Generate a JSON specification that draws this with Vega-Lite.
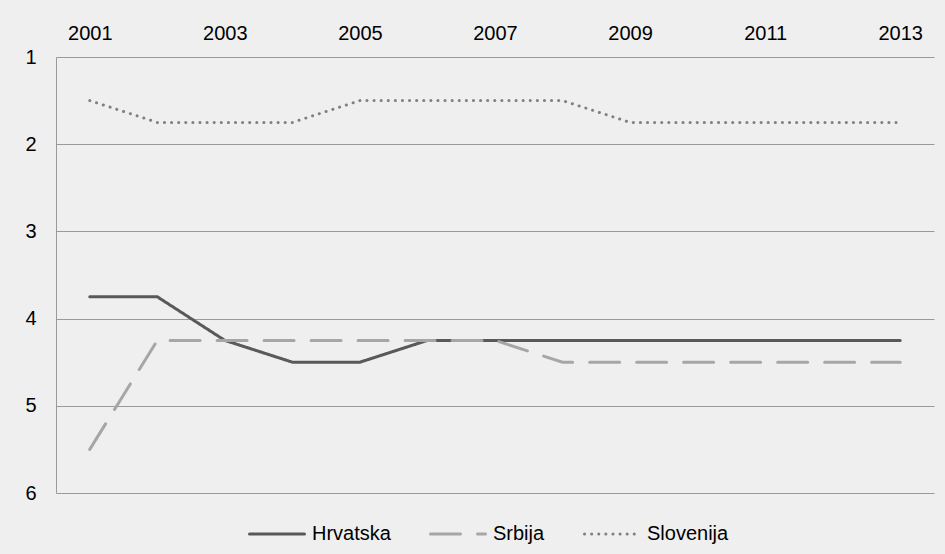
{
  "$schema": "https://vega.github.io/schema/vega-lite/v6.json",
  "autosize": "none",
  "width": 878,
  "height": 436,
  "padding": {"left": 56, "top": 57, "right": 11, "bottom": 61},
  "background": "#efefef",
  "config": {
    "view": {"stroke": null},
    "font": "Liberation Sans",
    "axis": {"labelFont": "Liberation Sans", "labelColor": "#000000"}
  },
  "data": {
    "values": [
      {"series": "Hrvatska", "year": 2001, "value": 3.75},
      {"series": "Hrvatska", "year": 2002, "value": 3.75},
      {"series": "Hrvatska", "year": 2003, "value": 4.25},
      {"series": "Hrvatska", "year": 2004, "value": 4.5},
      {"series": "Hrvatska", "year": 2005, "value": 4.5},
      {"series": "Hrvatska", "year": 2006, "value": 4.25},
      {"series": "Hrvatska", "year": 2007, "value": 4.25},
      {"series": "Hrvatska", "year": 2008, "value": 4.25},
      {"series": "Hrvatska", "year": 2009, "value": 4.25},
      {"series": "Hrvatska", "year": 2010, "value": 4.25},
      {"series": "Hrvatska", "year": 2011, "value": 4.25},
      {"series": "Hrvatska", "year": 2012, "value": 4.25},
      {"series": "Hrvatska", "year": 2013, "value": 4.25},
      {"series": "Srbija", "year": 2001, "value": 5.5},
      {"series": "Srbija", "year": 2002, "value": 4.25},
      {"series": "Srbija", "year": 2003, "value": 4.25},
      {"series": "Srbija", "year": 2004, "value": 4.25},
      {"series": "Srbija", "year": 2005, "value": 4.25},
      {"series": "Srbija", "year": 2006, "value": 4.25},
      {"series": "Srbija", "year": 2007, "value": 4.25},
      {"series": "Srbija", "year": 2008, "value": 4.5},
      {"series": "Srbija", "year": 2009, "value": 4.5},
      {"series": "Srbija", "year": 2010, "value": 4.5},
      {"series": "Srbija", "year": 2011, "value": 4.5},
      {"series": "Srbija", "year": 2012, "value": 4.5},
      {"series": "Srbija", "year": 2013, "value": 4.5},
      {"series": "Slovenija", "year": 2001, "value": 1.5},
      {"series": "Slovenija", "year": 2002, "value": 1.75},
      {"series": "Slovenija", "year": 2003, "value": 1.75},
      {"series": "Slovenija", "year": 2004, "value": 1.75},
      {"series": "Slovenija", "year": 2005, "value": 1.5},
      {"series": "Slovenija", "year": 2006, "value": 1.5},
      {"series": "Slovenija", "year": 2007, "value": 1.5},
      {"series": "Slovenija", "year": 2008, "value": 1.5},
      {"series": "Slovenija", "year": 2009, "value": 1.75},
      {"series": "Slovenija", "year": 2010, "value": 1.75},
      {"series": "Slovenija", "year": 2011, "value": 1.75},
      {"series": "Slovenija", "year": 2012, "value": 1.75},
      {"series": "Slovenija", "year": 2013, "value": 1.75}
    ]
  },
  "mark": {"type": "line", "strokeWidth": 3, "strokeCap": "round"},
  "encoding": {
    "x": {
      "field": "year",
      "type": "ordinal",
      "scale": {"type": "point", "padding": 0.5},
      "axis": {
        "orient": "top",
        "title": null,
        "values": [2001, 2003, 2005, 2007, 2009, 2011, 2013],
        "labelAngle": 0,
        "domain": false,
        "ticks": false,
        "grid": false,
        "labelFontSize": 20,
        "labelPadding": 14
      }
    },
    "y": {
      "field": "value",
      "type": "quantitative",
      "scale": {"domain": [1, 6], "reverse": true, "nice": false, "zero": false},
      "axis": {
        "title": null,
        "values": [1, 2, 3, 4, 5, 6],
        "ticks": false,
        "domain": true,
        "domainColor": "#9a9a9a",
        "domainWidth": 1,
        "grid": true,
        "gridColor": "#9a9a9a",
        "gridWidth": 1,
        "labelFontSize": 20,
        "labelPadding": 20,
        "labelBaseline": "middle"
      }
    },
    "color": {
      "field": "series",
      "type": "nominal",
      "scale": {"domain": ["Hrvatska", "Srbija", "Slovenija"], "range": ["#595959", "#a6a6a6", "#808080"]},
      "legend": {
        "title": null,
        "orient": "none",
        "direction": "horizontal",
        "legendX": 192,
        "legendY": 448,
        "symbolType": "stroke",
        "symbolSize": 3025,
        "symbolStrokeWidth": 3,
        "labelFontSize": 20,
        "labelFont": "Liberation Sans",
        "labelColor": "#000000",
        "labelOffset": 6,
        "columnPadding": 33,
        "encode": {"symbols": {"update": {"strokeCap": {"value": "round"}}}}
      }
    },
    "strokeDash": {
      "field": "series",
      "type": "nominal",
      "scale": {"domain": ["Hrvatska", "Srbija", "Slovenija"], "range": [[1, 0], [30, 17], [0.1, 7]]}
    }
  }
}
